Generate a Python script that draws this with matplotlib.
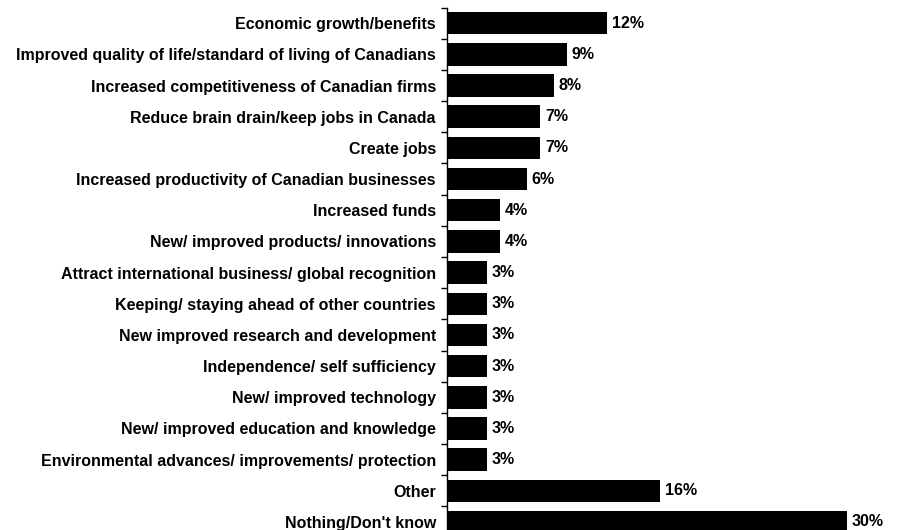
import numpy as np
import matplotlib.pyplot as plt
from matplotlib.ticker import FixedLocator

# Perceived benefits, share of respondents (%)
benefits = [
    "Economic growth/benefits",
    "Improved quality of life/standard of living of Canadians",
    "Increased competitiveness of Canadian firms",
    "Reduce brain drain/keep jobs in Canada",
    "Create jobs",
    "Increased productivity of Canadian businesses",
    "Increased funds",
    "New/ improved products/ innovations",
    "Attract international business/ global recognition",
    "Keeping/ staying ahead of other countries",
    "New improved research and development",
    "Independence/ self sufficiency",
    "New/ improved technology",
    "New/ improved education and knowledge",
    "Environmental advances/ improvements/ protection",
    "Other",
    "Nothing/Don't know",
]
shares = [12, 9, 8, 7, 7, 6, 4, 4, 3, 3, 3, 3, 3, 3, 3, 16, 30]

plt.rcParams['font.family'] = ['Liberation Sans', 'DejaVu Sans']

fig = plt.figure(figsize=(9.17, 5.3), dpi=100)
ax = fig.add_axes([0.4875, -0.0143, 0.509, 1.0])

y = np.arange(len(benefits))
ax.barh(y, shares, height=0.72, color='black')

for yi, v in zip(y, shares):
    ax.text(v + 0.35, yi, f"{v}%", va='center', ha='left',
            fontsize=11.5, fontweight='bold')

ax.set_xlim(0, 35)
ax.set_ylim(len(benefits) - 0.5, -0.5)
ax.set_yticks(y)
ax.set_yticklabels(benefits, fontsize=11.5, fontweight='bold')
ax.yaxis.set_minor_locator(FixedLocator(np.arange(-0.5, len(benefits), 1)))
ax.tick_params(axis='y', which='major', length=0, pad=8)
ax.tick_params(axis='y', which='minor', length=4, width=1)
ax.set_xticks([])
for side in ['top', 'right', 'bottom']:
    ax.spines[side].set_visible(False)
ax.spines['left'].set_linewidth(1)

fig.savefig('out.png', dpi=100)
